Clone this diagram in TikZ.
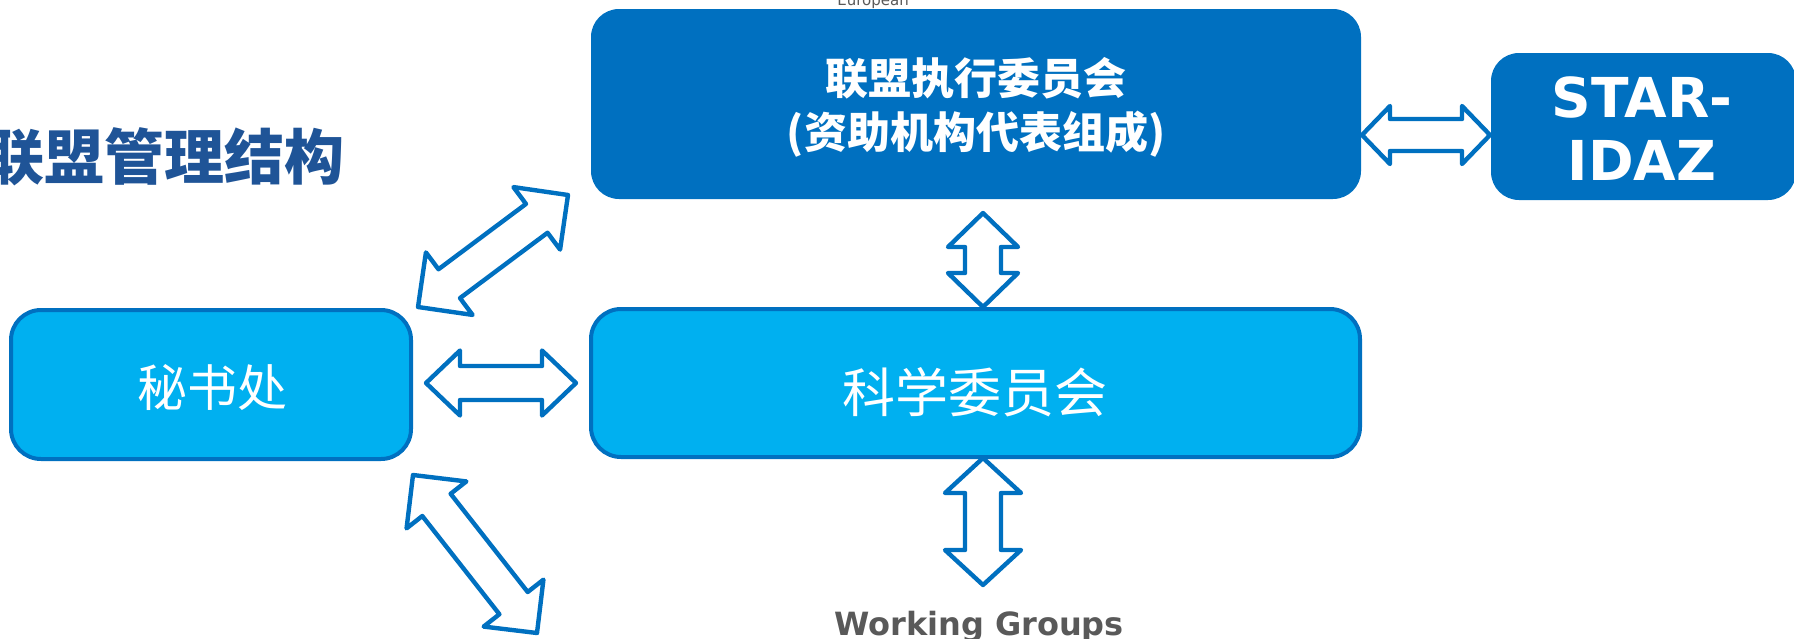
\documentclass[tikz,border=0pt]{standalone}
\usepackage{fontspec}
\setsansfont{DejaVu Sans}
\newfontfamily\cjk{Noto Sans CJK SC}
\usetikzlibrary{calc}
\definecolor{dblue}{HTML}{0070C0}
\definecolor{lblue}{HTML}{00B0F0}
\definecolor{ttl}{HTML}{1F5497}
\definecolor{wg}{HTML}{595959}
% block double arrow between two named coordinates
% #1 start, #2 end, #3 head length, #4 shaft half width, #5 head half width
\newcommand\blockarr[5]{%
  \draw[barrow] (#1)
    -- ($(#1)!#3!(#2)!#5!90:(#2)$)
    -- ($(#1)!#3!(#2)!#4!90:(#2)$)
    -- ($(#2)!#3!(#1)!#4!-90:(#1)$)
    -- ($(#2)!#3!(#1)!#5!-90:(#1)$)
    -- (#2)
    -- ($(#2)!#3!(#1)!#5!90:(#1)$)
    -- ($(#2)!#3!(#1)!#4!90:(#1)$)
    -- ($(#1)!#3!(#2)!#4!-90:(#2)$)
    -- ($(#1)!#3!(#2)!#5!-90:(#2)$)
    -- cycle;}
\begin{document}
\begin{tikzpicture}[x=0.5pt,y=-0.5pt,
  darkbox/.style={fill=dblue, rounded corners=14pt, inner sep=0pt},
  lightbox/.style={fill=lblue, draw=dblue, line width=2pt, rounded corners=15pt, inner sep=0pt},
  barrow/.style={draw=dblue, fill=white, line width=2.2pt, line join=round},
  wtext/.style={text=white, inner sep=0pt, align=center}]
\useasboundingbox (0,0) rectangle (1794,638);
% partly hidden label at top
\node[anchor=base, inner sep=0pt, text=wg, font=\sffamily\fontsize{7.5pt}{8pt}\selectfont] (eur) at (873,5) {European};
% title
\node[anchor=east, inner sep=0pt, text=ttl, font=\cjk\bfseries\fontsize{30pt}{32pt}\selectfont] (title) at (345,157) {联盟管理结构};
% boxes
\node[darkbox, minimum width=385pt, minimum height=95pt] (exec) at (976,104) {};
\node[darkbox, minimum width=152.5pt, minimum height=73.5pt] (star) at (1643.5,126.5) {};
\node[lightbox, minimum width=384.5pt, minimum height=74pt] (sci) at (975.5,383) {};
\node[lightbox, minimum width=200pt, minimum height=74.5pt] (sec) at (211,384.5) {};
% texts
\node[wtext, font=\cjk\bfseries\fontsize{21.5pt}{27pt}\selectfont] (execT) at (976,107) {联盟执行委员会\\(资助机构代表组成)};
\node[wtext, font=\sffamily\bfseries\fontsize{27.5pt}{31.5pt}\selectfont] (starT) at (1642,128.5) {STAR-\\IDAZ};
\node[wtext, font=\cjk\fontsize{26.5pt}{28pt}\selectfont] (sciT) at (975,392) {科学委员会};
\node[wtext, font=\cjk\fontsize{25pt}{27pt}\selectfont] (secT) at (212,387) {秘书处};
\node[anchor=base, inner sep=0pt, text=wg, font=\sffamily\bfseries\fontsize{16pt}{18pt}\selectfont] (wgT) at (979,635) {Working Groups};
% arrow end points
\coordinate (a1s) at (1362,135);
\coordinate (a1e) at (1490,135);
\coordinate (a2s) at (426,383);
\coordinate (a2e) at (576,383);
\coordinate (a3s) at (983,213);
\coordinate (a3e) at (983,307);
\coordinate (a4s) at (983,458);
\coordinate (a4e) at (983,585);
\coordinate (a5s) at (418,307);
\coordinate (a5e) at (568,195);
\coordinate (a6s) at (413,475);
\coordinate (a6e) at (537,633);
% arrows
\blockarr{a1s}{a1e}{14pt}{8pt}{14.5pt}
\blockarr{a2s}{a2e}{17pt}{8.5pt}{16.25pt}
\blockarr{a3s}{a3e}{17pt}{9pt}{17.5pt}
\blockarr{a4s}{a4e}{17.5pt}{9pt}{19pt}
\blockarr{a5s}{a5e}{19.5pt}{9pt}{19.5pt}
\blockarr{a6s}{a6e}{19pt}{9pt}{19pt}
\end{tikzpicture}
\end{document}
